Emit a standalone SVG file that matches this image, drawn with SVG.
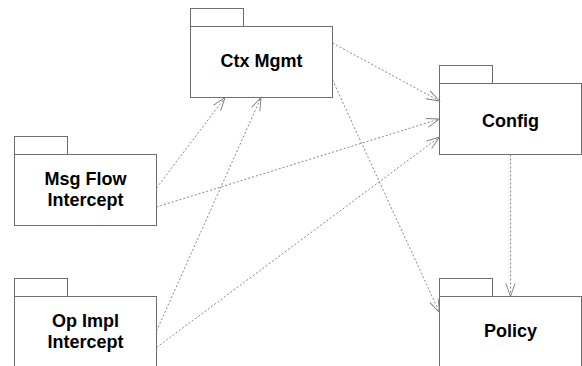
<svg xmlns="http://www.w3.org/2000/svg" width="582" height="366" viewBox="0 0 582 366">
  <style>
    .pkg rect { fill: #ffffff; stroke: #6e6e6e; stroke-width: 1; }
    .label { font-family: "Liberation Sans", Arial, sans-serif; font-weight: bold; font-size: 18px; fill: #000000; text-anchor: middle; }
    .dep { fill: none; stroke: #7a7a7a; stroke-width: 0.9; stroke-dasharray: 2 2; marker-end: url(#open); }
  </style>
  <defs>
    <marker id="open" markerUnits="userSpaceOnUse" markerWidth="16" markerHeight="12" viewBox="-14 -6 16 12" refX="0" refY="0" orient="auto">
      <path d="M-13,-4.5 L0,0 L-13,4.5" fill="none" stroke="#7a7a7a" stroke-width="0.9"/>
    </marker>
  </defs>
  <rect width="582" height="366" fill="#ffffff"/>

  <g id="ctx-mgmt" class="pkg">
    <rect x="190.5" y="8.5" width="53" height="18"/>
    <rect x="190.5" y="26.5" width="142" height="71"/>
    <text class="label" x="261.5" y="67">Ctx Mgmt</text>
  </g>

  <g id="config" class="pkg">
    <rect x="439.5" y="65.5" width="53" height="18"/>
    <rect x="439.5" y="83.5" width="142" height="71"/>
    <text class="label" x="510.5" y="127">Config</text>
  </g>

  <g id="msg-flow-intercept" class="pkg">
    <rect x="14.5" y="136.5" width="53" height="18"/>
    <rect x="14.5" y="154.5" width="142" height="71"/>
    <text class="label" x="85.5" y="185">Msg Flow</text>
    <text class="label" x="85.5" y="205.5">Intercept</text>
  </g>

  <g id="op-impl-intercept" class="pkg">
    <rect x="14.5" y="278.5" width="53" height="18"/>
    <rect x="14.5" y="296.5" width="142" height="80"/>
    <text class="label" x="85.5" y="327">Op Impl</text>
    <text class="label" x="85.5" y="347.5">Intercept</text>
  </g>

  <g id="policy" class="pkg">
    <rect x="439.5" y="278.5" width="53" height="18"/>
    <rect x="439.5" y="296.5" width="142" height="80"/>
    <text class="label" x="510.5" y="337">Policy</text>
  </g>

  <g id="connectors">
    <line class="dep" x1="156.5" y1="188" x2="225" y2="97.5"/>
    <line class="dep" x1="156.5" y1="331" x2="261" y2="97.5"/>
    <line class="dep" x1="332.5" y1="43" x2="439.5" y2="101"/>
    <line class="dep" x1="156.5" y1="207" x2="439.5" y2="119"/>
    <line class="dep" x1="156.5" y1="347.5" x2="439.5" y2="137"/>
    <line class="dep" x1="332.5" y1="80" x2="439.5" y2="312.5"/>
    <line class="dep" x1="510.5" y1="154.5" x2="510.5" y2="296.5"/>
  </g>
</svg>
